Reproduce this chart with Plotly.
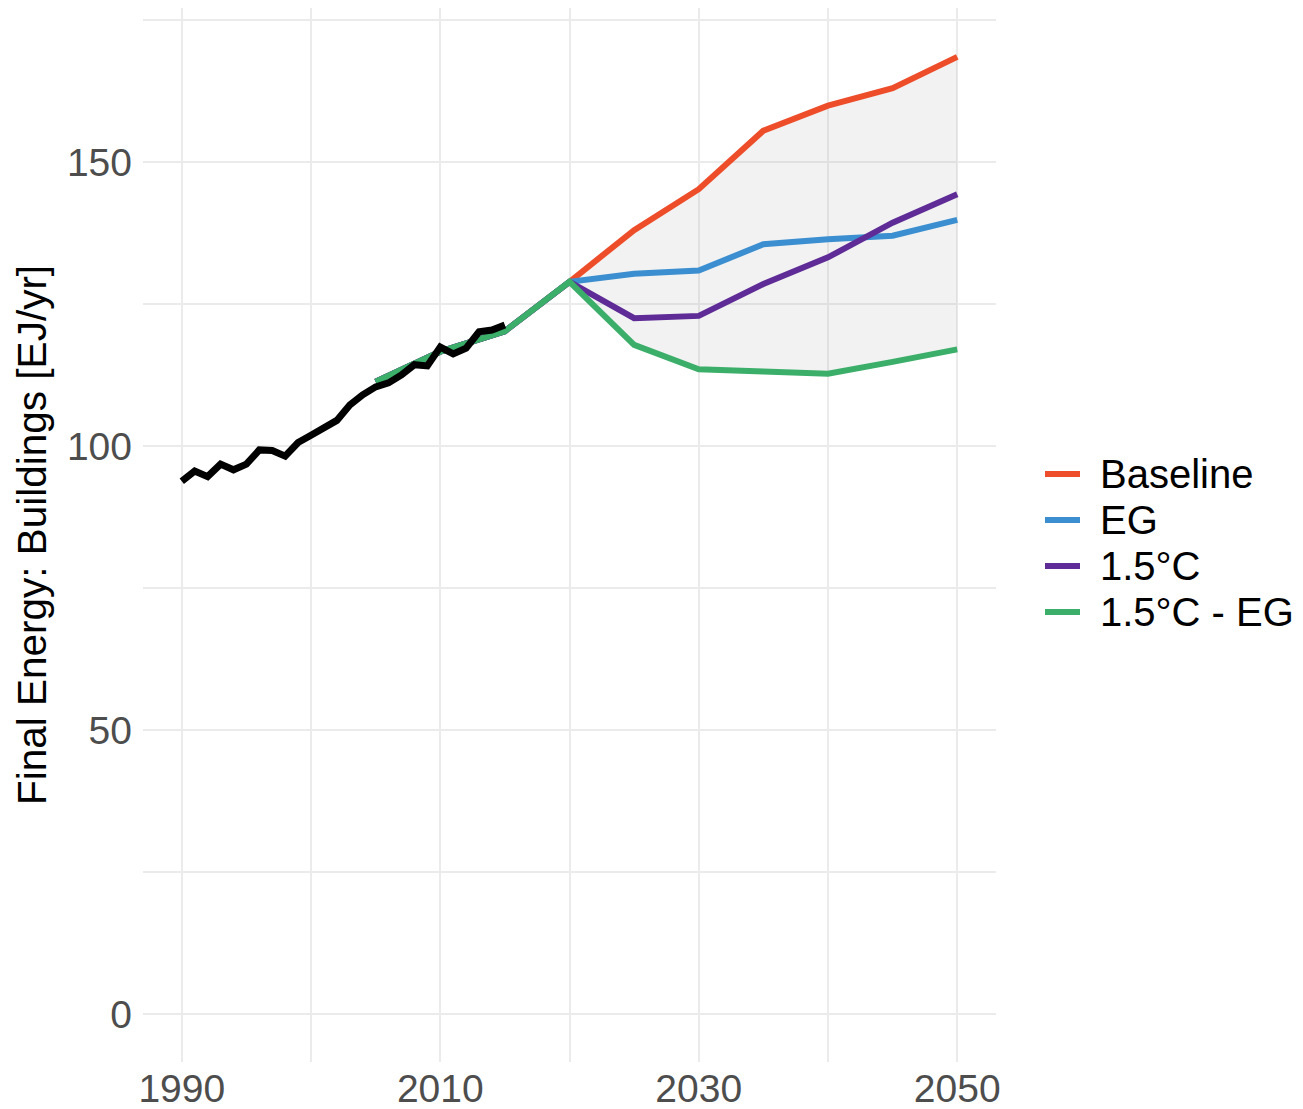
import plotly.graph_objects as go

# Historical data (black line)
hist_years = list(range(1990, 2016))
hist_values = [93.8, 95.6, 94.6, 96.8, 95.8, 96.8, 99.3, 99.2, 98.2, 100.6,
               101.9, 103.2, 104.5, 107.2, 109.0, 110.4, 111.1, 112.5, 114.3, 114.1,
               117.4, 116.2, 117.2, 120.1, 120.4, 121.3]

# Scenario data
scen_years = [2005, 2010, 2015, 2020, 2025, 2030, 2035, 2040, 2045, 2050]
baseline = [111.3, 116.6, 120.2, 128.9, 138.0, 145.2, 155.5, 159.9, 163.0, 168.5]
eg = [111.3, 116.6, 120.2, 128.9, 130.3, 130.9, 135.5, 136.4, 137.0, 139.8]
c15 = [111.3, 116.6, 120.2, 128.9, 122.5, 122.9, 128.5, 133.2, 139.3, 144.3]
c15_eg = [111.3, 116.6, 120.2, 128.9, 117.8, 113.5, 113.1, 112.7, 114.8, 117.0]

series_names = ["Baseline", "EG", "1.5°C", "1.5°C - EG"]
series_values = [baseline, eg, c15, c15_eg]
series_colors = ["#EE4D2A", "#3B8FD0", "#5E2B97", "#3BAF6A"]

x_ticks = [1990, 2010, 2030, 2050]
y_ticks = [0, 50, 100, 150]

fig = go.Figure()

# Ribbon from 2020 on (min to max of scenarios)
rib_idx = [i for i, y in enumerate(scen_years) if y >= 2020]
rib_x = [scen_years[i] for i in rib_idx]
rib_hi = [max(s[i] for s in series_values) for i in rib_idx]
rib_lo = [min(s[i] for s in series_values) for i in rib_idx]
fig.add_trace(go.Scatter(x=rib_x, y=rib_lo, mode="lines", line=dict(width=0),
                         showlegend=False, hoverinfo="skip"))
fig.add_trace(go.Scatter(x=rib_x, y=rib_hi, mode="lines", line=dict(width=0),
                         fill="tonexty", fillcolor="rgba(128,128,128,0.1)",
                         showlegend=False, hoverinfo="skip"))

for name, vals, col in zip(series_names, series_values, series_colors):
    fig.add_trace(go.Scatter(x=scen_years, y=vals, mode="lines", name=name,
                             line=dict(color=col, width=6), showlegend=False))

fig.add_trace(go.Scatter(x=hist_years, y=hist_values, mode="lines",
                         line=dict(color="black", width=7), showlegend=False))

# Figure geometry (pixels within figure)
W, H = 1295, 1101
ML, MR, MT, MB = 135, 307, 0, 47
PW, PH = W - ML - MR, H - MT - MB

def px_x(fx):
    return (fx - ML) / PW

def px_y(fy):
    return (H - MB - fy) / PH

# Manual legend (ggplot style)
leg_top = 466
leg_step = 46
for i, (name, col) in enumerate(zip(series_names, series_colors)):
    fy = leg_top + i * leg_step
    fig.add_shape(type="line", xref="paper", yref="paper",
                  x0=px_x(1037), x1=px_x(1072), y0=px_y(fy), y1=px_y(fy),
                  line=dict(color=col, width=6))
    fig.add_annotation(xref="paper", yref="paper", x=px_x(1090), y=px_y(fy),
                       xanchor="left", yanchor="middle", showarrow=False,
                       text=name, font=dict(size=40, color="black"))

grid_col = "#EBEBEB"
fig.update_layout(
    width=W, height=H,
    margin=dict(l=ML, r=MR, t=MT, b=MB),
    plot_bgcolor="white", paper_bgcolor="white",
    font=dict(family="Liberation Sans, Arial, sans-serif", color="black"),
    showlegend=False,
)
fig.update_xaxes(range=[1987, 2053], tickvals=x_ticks, ticktext=[str(v) for v in x_ticks],
                 showgrid=True, gridcolor=grid_col, gridwidth=2, zeroline=False,
                 showline=False, ticks="",
                 tickfont=dict(size=39, color="#4D4D4D"),
                 minor=dict(dtick=10, tick0=1990, showgrid=True, gridcolor=grid_col, gridwidth=1.5))
fig.update_yaxes(range=[-8.45, 177.1], tickvals=y_ticks, ticktext=[str(v) for v in y_ticks],
                 showgrid=True, gridcolor=grid_col, gridwidth=2, zeroline=False,
                 showline=False, ticks="", ticklabelstandoff=10,
                 tickfont=dict(size=39, color="#4D4D4D"),
                 title=dict(text="Final Energy: Buildings [EJ/yr]", font=dict(size=40.5, color="black"),
                            standoff=7),
                 minor=dict(dtick=25, tick0=0, showgrid=True, gridcolor=grid_col, gridwidth=1.5))

fig.write_html("out.html")
